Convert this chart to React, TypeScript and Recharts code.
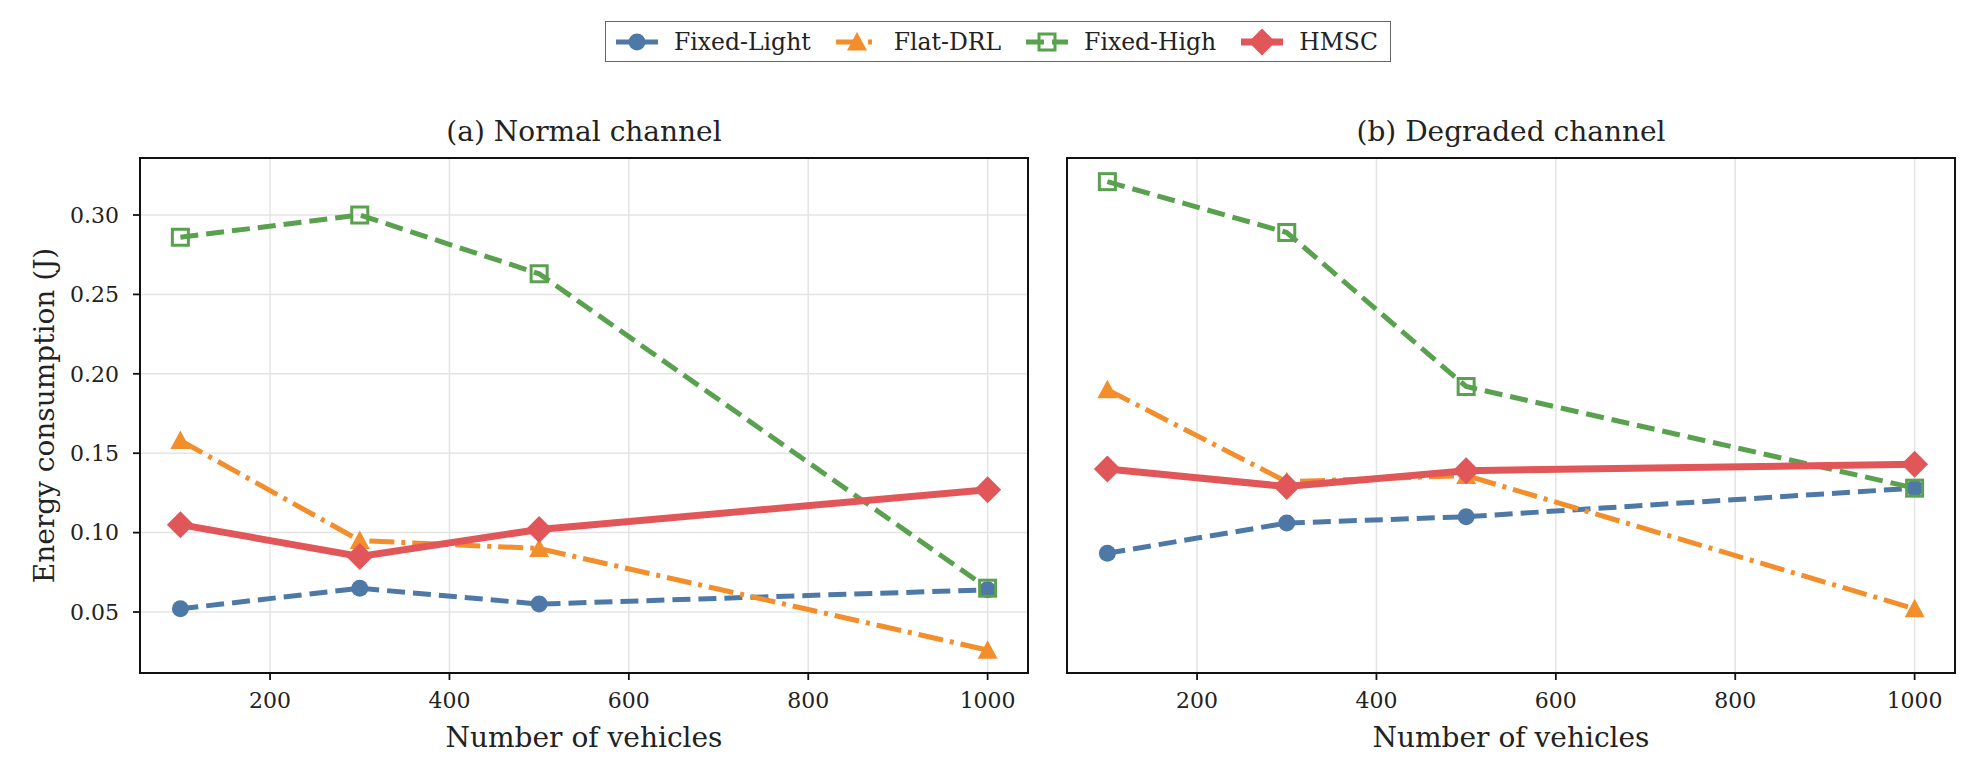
import React from "react"
import {
  LineChart,
  Line,
  XAxis,
  YAxis,
  CartesianGrid,
  ReferenceArea,
} from "recharts"

// x positions (number of vehicles)
const VEHICLES = [100, 300, 500, 1000]
const X_TICKS = [200, 400, 600, 800, 1000]
const Y_TICKS = [0.05, 0.1, 0.15, 0.2, 0.25, 0.3]

// (a) Normal channel
const NORMAL_FIXED_LIGHT = [0.052, 0.065, 0.055, 0.064]
const NORMAL_FLAT_DRL = [0.158, 0.095, 0.09, 0.026]
const NORMAL_FIXED_HIGH = [0.286, 0.3, 0.263, 0.065]
const NORMAL_HMSC = [0.105, 0.085, 0.102, 0.127]

// (b) Degraded channel
const DEGRADED_FIXED_LIGHT = [0.087, 0.106, 0.11, 0.128]
const DEGRADED_FLAT_DRL = [0.19, 0.132, 0.136, 0.052]
const DEGRADED_FIXED_HIGH = [0.321, 0.289, 0.192, 0.128]
const DEGRADED_HMSC = [0.14, 0.129, 0.139, 0.143]

const X_DOMAIN = [55, 1045]
const Y_DOMAIN = [0.0116, 0.3359]

const FONT = "'DejaVu Serif', serif"

const SERIES = [
  { key: "fixedLight", name: "Fixed-Light", color: "#4e79a7", width: 5, dash: "18 8", marker: "circle" },
  { key: "flatDrl", name: "Flat-DRL", color: "#f28e2b", width: 5, dash: "25 7 4 7", marker: "triangle" },
  { key: "fixedHigh", name: "Fixed-High", color: "#59a14f", width: 5, dash: "18 8", marker: "square" },
  { key: "hmsc", name: "HMSC", color: "#e15759", width: 7, dash: undefined, marker: "diamond" },
]

function buildRows(fl: number[], fd: number[], fh: number[], hm: number[]) {
  return VEHICLES.map((x, i) => ({
    x,
    fixedLight: fl[i],
    flatDrl: fd[i],
    fixedHigh: fh[i],
    hmsc: hm[i],
  }))
}

const normalRows = buildRows(NORMAL_FIXED_LIGHT, NORMAL_FLAT_DRL, NORMAL_FIXED_HIGH, NORMAL_HMSC)
const degradedRows = buildRows(DEGRADED_FIXED_LIGHT, DEGRADED_FLAT_DRL, DEGRADED_FIXED_HIGH, DEGRADED_HMSC)

function Marker({ kind, cx, cy, color }: { kind: string; cx: number; cy: number; color: string }) {
  if (kind === "circle") return <circle cx={cx} cy={cy} r={8.5} fill={color} />
  if (kind === "triangle") {
    const s = 10
    return <polygon points={`${cx},${cy - s} ${cx - s},${cy + s * 0.85} ${cx + s},${cy + s * 0.85}`} fill={color} />
  }
  if (kind === "square")
    return <rect x={cx - 8} y={cy - 8} width={16} height={16} fill="none" stroke={color} strokeWidth={3} />
  const d = 13.5
  return <polygon points={`${cx},${cy - d} ${cx + d},${cy} ${cx},${cy + d} ${cx - d},${cy}`} fill={color} />
}

function Panel({ rows, showYLabels }: { rows: any[]; showYLabels: boolean }) {
  const yWidth = showYLabels ? 140 : 27
  const width = showYLabels ? 1040 : 940
  const right = showYLabels ? 12 : 25
  return (
    <LineChart
      width={width}
      height={771}
      data={rows}
      margin={{ top: 158, right, bottom: 0, left: 0 }}
    >
      <CartesianGrid stroke="#e4e4e4" strokeWidth={1.5} />
      <ReferenceArea
        x1={X_DOMAIN[0]}
        x2={X_DOMAIN[1]}
        y1={Y_DOMAIN[0]}
        y2={Y_DOMAIN[1]}
        fill="none"
        stroke="#111"
        strokeWidth={2}
        ifOverflow="visible"
      />
      <XAxis
        dataKey="x"
        type="number"
        domain={X_DOMAIN}
        ticks={X_TICKS}
        allowDataOverflow
        height={98}
        tickSize={7}
        tickMargin={12}
        axisLine={{ stroke: "#111", strokeWidth: 2 }}
        tickLine={{ stroke: "#111", strokeWidth: 1.8 }}
        tick={{ fontFamily: FONT, fontSize: 22, fill: "#222" }}
        label={{
          value: "Number of vehicles",
          position: "insideBottom",
          offset: 24,
          style: { fontFamily: FONT, fontSize: 28, fill: "#222" },
        }}
      />
      <YAxis
        type="number"
        domain={Y_DOMAIN}
        ticks={Y_TICKS}
        allowDataOverflow
        width={yWidth}
        tickSize={7}
        tickMargin={14}
        tickFormatter={(v: number) => v.toFixed(2)}
        axisLine={{ stroke: "#111", strokeWidth: 2 }}
        tickLine={{ stroke: "#111", strokeWidth: 1.8 }}
        tick={showYLabels ? { fontFamily: FONT, fontSize: 22, fill: "#222" } : false}
        label={
          showYLabels
            ? {
                value: "Energy consumption (J)",
                angle: -90,
                position: "insideLeft",
                offset: 44,
                style: { fontFamily: FONT, fontSize: 28, fill: "#222", textAnchor: "middle" },
              }
            : undefined
        }
      />
      {SERIES.map((s) => (
        <Line
          key={s.key}
          dataKey={s.key}
          type="linear"
          stroke={s.color}
          strokeWidth={s.width}
          strokeDasharray={s.dash}
          isAnimationActive={false}
          activeDot={false}
          dot={(p: any) => (
            <Marker key={`${s.key}-${p.index}`} kind={s.marker} cx={p.cx} cy={p.cy} color={s.color} />
          )}
        />
      ))}
    </LineChart>
  )
}

function LegendBox() {
  return (
    <div
      style={{
        position: "absolute",
        left: 605,
        top: 21,
        height: 39,
        display: "flex",
        alignItems: "center",
        padding: "0 12px 0 10px",
        border: "1.5px solid #666",
        background: "#fff",
        fontFamily: FONT,
        fontSize: 23.5,
        color: "#222",
        whiteSpace: "nowrap",
      }}
    >
      {SERIES.map((s, i) => (
        <div key={s.key} style={{ display: "flex", alignItems: "center", marginLeft: i === 0 ? 0 : 25 }}>
          <svg width={42} height={32}>
            <line x1={0} y1={16} x2={42} y2={16} stroke={s.color} strokeWidth={s.width} strokeDasharray={s.dash} />
            <Marker kind={s.marker} cx={21} cy={16} color={s.color} />
          </svg>
          <span style={{ marginLeft: 16 }}>{s.name}</span>
        </div>
      ))}
    </div>
  )
}

export default function App() {
  return (
    <div
      style={{
        position: "absolute",
        left: 0,
        top: 0,
        width: 1980,
        height: 771,
        background: "#fff",
        overflow: "hidden",
      }}
    >
      <div style={{ position: "absolute", left: 0, top: 0 }}>
        <Panel rows={normalRows} showYLabels={true} />
      </div>
      <div style={{ position: "absolute", left: 1040, top: 0 }}>
        <Panel rows={degradedRows} showYLabels={false} />
      </div>
      <svg width={1980} height={160} style={{ position: "absolute", left: 0, top: 0, pointerEvents: "none" }}>
        <text x={584} y={141} textAnchor="middle" fontFamily={FONT} fontSize={28} fill="#222">
          (a) Normal channel
        </text>
        <text x={1511} y={141} textAnchor="middle" fontFamily={FONT} fontSize={28} fill="#222">
          (b) Degraded channel
        </text>
      </svg>
      <LegendBox />
    </div>
  )
}
